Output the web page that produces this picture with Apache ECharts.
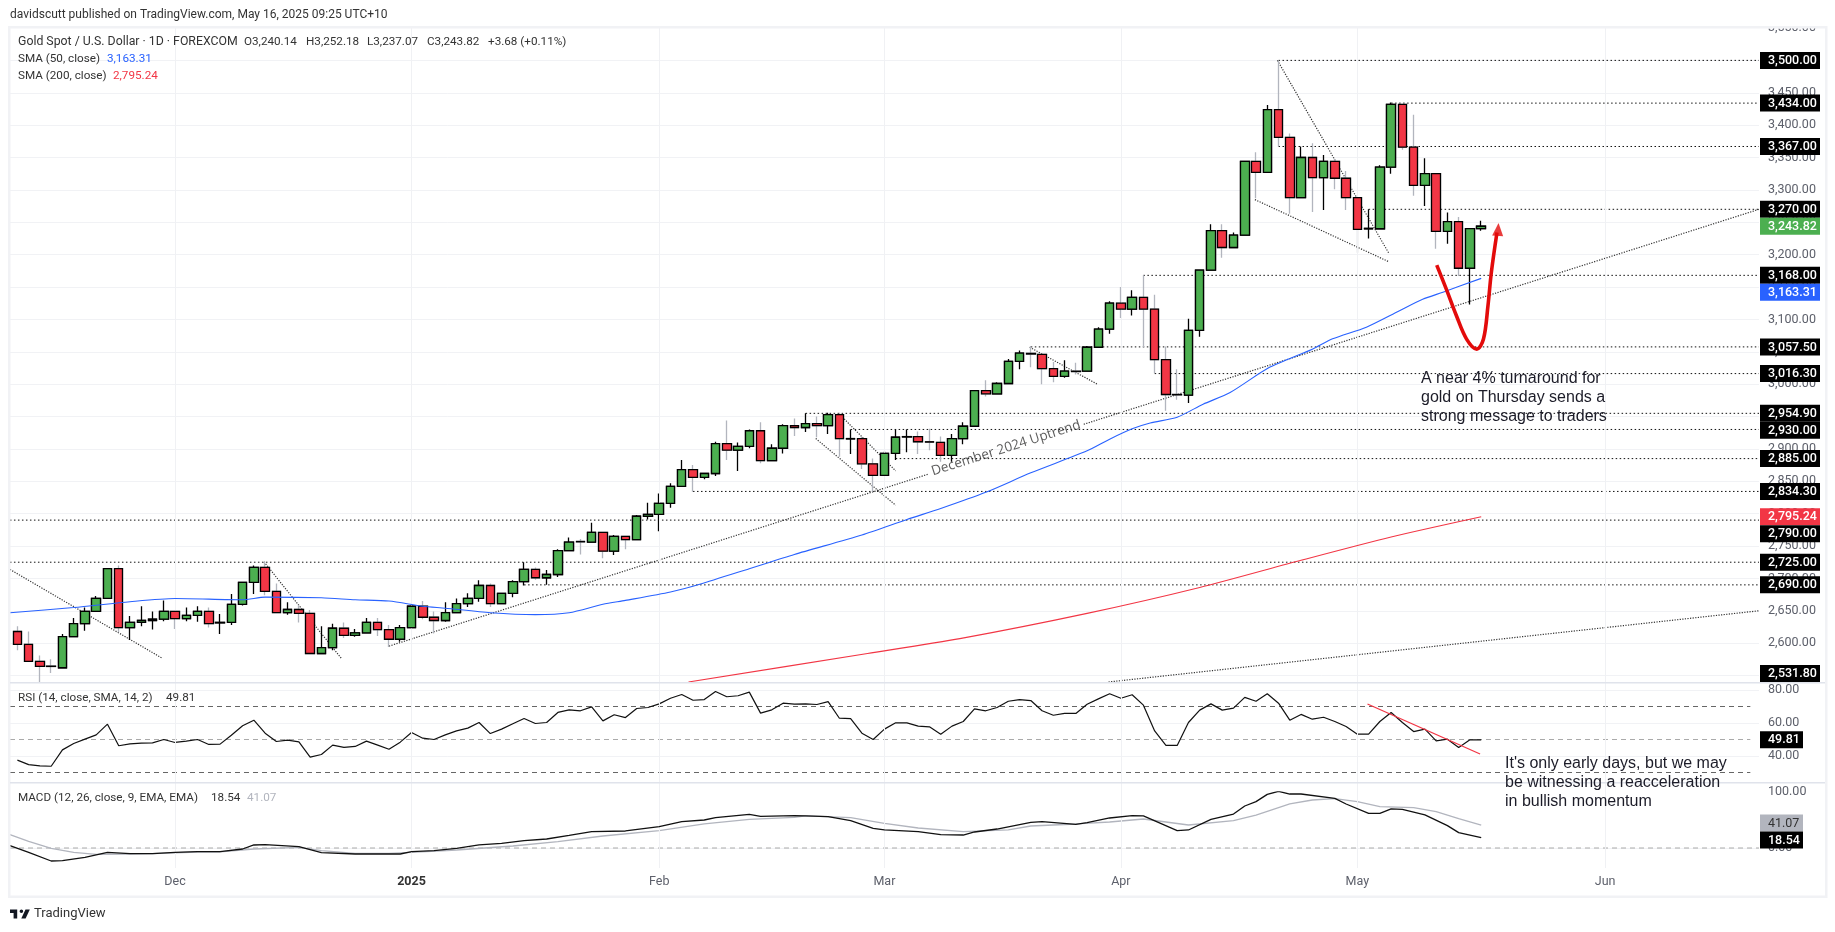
<!DOCTYPE html>
<html>
<head>
<meta charset="utf-8">
<title>Gold Spot / U.S. Dollar</title>
<script src="https://cdn.jsdelivr.net/npm/echarts@6/dist/echarts.min.js"></script>
<style>
  html, body { margin: 0; padding: 0; background: #fff; }
  #chart { width: 1835px; height: 932px; }
</style>
</head>
<body>
<div id="chart"></div>
<script>
// daily bars (bar 0 = 12 Nov 2024)
let barOpen = [2618,2598,2572,2564.5,2562,2610,2630,2649,2669,2715,
  2624,2632,2635,2637,2649,2638,2643,2649,2631.5,2632,
  2660,2694,2717,2680,2647,2652,2646,2584,2593,2623,
  2612,2616,2632,2621,2606,2624,2657,2640,2635,2647,
  2661,2669,2689,2661,2677,2695,2714,2701,2706,2743,
  2757,2756,2771,2742,2765,2760,2796,2799,2816,2842,
  2868,2856,2862,2908,2898,2904,2928,2882,2901,2936,
  2933,2939,2936,2953,2915.5,2916,2877,2859,2893,2918.5,
  2919,2911,2910,2890,2916,2935,2990,2985,3001,3035,
  3047.5,3046,3024,3012,3020,3020,3057,3085,3125,3116,
  3134,3116,3038,2984,2983,3083,3176,3237,3211,3230,
  3344,3327,3424,3381,3288,3350,3319,3344,3318,3288,
  3240,3240,3335,3432,3366,3307,3325,3236,3251,3179,3240.14];
let barClose = [2598,2572,2564,2564,2610,2630,2649,2669,2715,2624,
  2632,2635,2637,2649,2638,2643,2649,2630,2632,2660,
  2694,2717,2680,2647,2652,2646,2584,2593,2623,2612,
  2616,2632,2621,2606,2624,2657,2640,2635,2647,2661,
  2669,2689,2661,2677,2695,2714,2701,2706,2743,2756,
  2756.5,2771,2742,2765,2760,2796,2799,2816,2842,2868,
  2856,2862,2908,2898,2904,2928,2882,2901,2936,2933,
  2939,2936,2953,2916,2916,2877,2859,2893,2918,2919,
  2911,2910.5,2890,2916,2935,2990,2985,3001,3035,3048,
  3046.5,3024,3012,3020,3019.5,3057,3085,3125,3116,3134,
  3116,3038,2984,2983.5,3083,3176,3237,3211,3230,3344,
  3327,3424,3381,3288,3350,3319,3344,3318,3288,3239,
  3240.5,3335,3432,3366,3307,3325,3236,3251,3179,3240.14,3243.82];
let barHigh = [2626,2618,2581,2575,2614,2639,2655,2673,2715,2720,
  2642,2657,2649,2666,2649,2655,2657,2655,2645,2676,
  2695,2720,2726,2692,2663,2659,2651,2626,2630,2632,
  2622,2639,2639,2628,2628,2660,2665,2649,2663,2669,
  2677,2697,2692,2677,2697,2725,2717,2713,2745,2763,
  2761,2786,2772,2767,2765,2798,2817,2831,2847,2883,
  2875,2862,2911,2944,2910,2930,2941,2907,2938,2947,
  2955,2950,2956,2956,2930,2919,2885,2896,2930,2930,
  2927,2931,2919,2923,2941,2990,3006,3003,3039,3052,
  3059,3046,3034,3037,3033,3059,3088,3128,3150,3145,
  3168,3138,3058,3023,3101,3176,3247,3247,3234,3344,
  3358,3431,3500,3387,3367,3372,3354,3348,3329,3288,
  3270,3338,3435,3432,3416,3349,3325,3265,3258,3241,3252.18];
let barLow = [2589,2572,2540,2554,2562,2610,2619,2649,2669,2617,
  2605,2626,2621,2634,2622,2634,2633,2624,2614,2628,
  2658,2676,2674,2647,2644,2632,2584,2584,2589,2608,
  2610,2615,2611,2594,2602,2623,2637,2615,2633,2646,
  2656,2664,2656,2661,2671,2689,2698,2690,2702,2743,
  2737,2755,2731,2736,2745,2760,2791,2773,2809,2842,
  2834,2853,2858,2883,2866,2901,2878,2881,2893,2920,
  2926,2918,2923,2888,2892,2869,2834,2859,2883,2895,
  2892,2898,2880,2880,2907,2935,2981,2984,3001,3023,
  3026,3000,3003,3010,3015,3020,3057,3078,3102,3106,
  3057,3017,2959,2976,2971,3073,3176,3195,3211,3230,
  3287,3327,3367,3263,3288,3266,3269,3301,3269,3203,
  3225,3240,3325,3362,3291,3275,3209,3217,3167,3123,3237.07];

// moving averages, sampled along the drawn curves
let sma50Bars = [-0.66,5,10,14,20,22,27,30,33,36,38,42,46,49,52,54,58,60.6,65,69,75,79,82,86,90,95,97,99,100.6,103,105.3,107.7,111.2,115,116.8,119.8,122.7,124.8,126.6,130];
let sma50Vals = [2647,2655,2664,2669,2667,2671,2670,2667,2665,2657,2654,2647,2644,2647,2660,2666,2679,2691,2715,2737,2767,2791,2808,2833,2863,2897,2915,2931,2940,2949,2969,2987,3026,3054,3070,3088,3113,3131,3142,3163.31];
let sma200Bars = [59.6,75.5,83.7,95,105,114,122,130];
let sma200Vals = [2540,2584,2607,2646,2686,2728,2764,2795.24];

// horizontal levels and where each one starts
let levelVals = [3500,3434,3367,3270,3168,3057.5,3016.3,2954.9,2930,2885,2834.3,2790,2725,2690];
let levelBars = [112,122,112,120,100,90,101,70,74,78,60,-0.66,-0.66,45];

// drawn trend lines: bar, price, bar, price
let trendLines = [
  [33,2595.4,80.9,2861],
  [94.7,2938,154.67,3270],
  [-0.66,2713.8,12.8,2577.3],
  [21.9,2725.6,28.8,2575.8],
  [73.1,2952,78,2866],
  [70.9,2916,78,2813],
  [89.9,3057,95.9,3000],
  [111.9,3500,121.8,3202],
  [109.9,3285,121.8,3189],
  [96.9,2540,154.67,2650]
];

// red hand drawn swoosh
let swooshBars = [126.05,126.9,127.8,128.7,129.6,130.2,130.6,130.9,131.4];
let swooshVals = [3183.9,3146.8,3105.6,3069.6,3054.1,3069.6,3121.1,3172.6,3234.3];

let rsiVals = [37.5,34.8,34,33.8,43.7,47.6,50.2,52.8,59.3,46.2,
  47.4,47.8,48,50,48.2,49,50,47,47.2,52.6,
  58.3,61.7,53.8,48.8,49.6,48.6,39.3,40.9,46.6,45.2,
  45.8,49,46.6,44.1,48.4,54.2,50.8,50,52.8,55.2,
  56.9,60.3,53.6,56.3,59.5,62.7,59.7,60.3,66.4,68,
  67.4,69.8,61.3,65,63.3,68.8,69.4,71.6,75,77.3,
  73.8,74.2,79.1,75.9,76.5,78.7,66,68,72,71.4,
  71.6,71.2,73,62.9,62.7,53.8,50,56.3,60.1,60.1,
  58.1,57.7,53.2,58.1,60.9,68.6,67.4,69.4,73.2,74.2,
  73.6,67.4,64.7,65.8,65.8,71.4,74.6,77.7,75,77.1,
  70.8,55.2,46.4,46.4,60.3,67.8,71.6,67.8,69,75.5,
  73.2,77.7,72,61.7,65.2,62.3,63.5,60.9,57.9,53.2,
  53.2,60.9,66.4,60.3,54.8,56.3,49.2,50.2,45.2,49.8,49.81];
let rsiDownLine = [119.9,71.5,129.9,41.2];

let macdBars = [-0.66,1,3,4,6,8,10,12,14,16,18,20,21,22,25,27,30,34,35,37,39,41,43,45,47,49,51,54,57,59,61,62,65,66,69,70,72,74,76,77,80,82,84,85,87,90,91,94,95,97,99,100,103,104,106,108,109,110,111,112,113,114,117,118,120,121,122,123,125,127,128,130];
let macdVals = [4.2,-7.7,-23.2,-22.6,-16.6,-7.7,-10.1,-10.1,-7.7,-6.5,-6.5,-1.8,5.4,6,2.4,-8.3,-10.7,-10.7,-6.5,-4.7,-0.6,5.4,8.4,13.1,16.1,22.6,29.2,30.4,38.1,47,50,54.2,60.1,56.6,57.8,57.2,56,48.8,35.1,32.2,29.2,23.8,23.2,28.6,33.9,45.8,47,42.3,45.3,53.6,57.8,57.2,31,32.2,51.2,60.7,75,82.8,95.8,101.2,96.4,96.4,88.7,78.6,61.9,61.9,69.7,69.1,59,39.9,27.4,18.54];
let signalBars = [-0.66,1,3,5,7,10,12,16,18,21,25,27,30,33,35,39,44,48,52,57,61,65,69,70,74,77,80,84,88,90,94,97,100,104,108,110,113,115,117,119,121,124,126,128,130];
let signalVals = [23.8,11.9,-0.6,-7.7,-11.3,-10.7,-10.1,-7.1,-7.1,-1.8,1.2,-4.8,-9.5,-9.5,-7.7,-3.6,3.6,11.3,21.4,31,42.9,51.2,54.8,57.2,54.2,44.1,35.7,29.2,32.2,39.3,42.9,46.4,51.8,41.1,48.8,58.9,78.6,85.7,88.1,82.8,73.8,72,64.9,52.4,41.07];

// x axis
let tickBars = [14,35,57,77,98,119,141];
let tickLabels = ['Dec','2025','Feb','Mar','Apr','May','Jun'];

// price tags on the right hand axis
let priceTags = [3500,3434,3367,3270,3243.82,3168,3163.31,3057.5,3016.3,2954.9,2930,2885,2834.3,2795.24,2790,2725,2690,2531.8];
let tagColors = {3243.82:'#4caf50',3163.31:'#2962ff',2795.24:'#f23645'};

let uiFont = 'Roboto, sans-serif';
let noteFont = '"Liberation Sans", Arial, sans-serif';
let xMin = -0.657, xMax = 154.67;

let fmt = function (v) {
  return v.toLocaleString('en-US', {minimumFractionDigits: 2, maximumFractionDigits: 2});
};
let zip = function (a, b) {
  return a.map(function (v, i) { return [v, b[i]]; });
};

let chart = echarts.init(document.getElementById('chart'));

let plainX = function (idx) {
  return {type: 'value', gridIndex: idx, min: xMin, max: xMax, show: false, splitLine: {show: false}};
};
let priceY = function (idx, min, max, interval, showMax) {
  return {
    type: 'value', gridIndex: idx, position: 'right', min: min, max: max, interval: interval,
    axisLine: {show: false}, axisTick: {show: false},
    splitLine: {show: true, showMinLine: false, showMaxLine: false, lineStyle: {color: '#f1f2f5', width: 1}},
    axisLabel: {
      color: '#5d606b', fontFamily: uiFont, fontSize: 12.5, margin: 9,
      showMinLabel: false, showMaxLabel: showMax, formatter: function (v) { return fmt(v); }
    }
  };
};
let simpleLine = function (gridIdx, data, color, width, type, z) {
  return {
    type: 'line', xAxisIndex: gridIdx, yAxisIndex: gridIdx, data: data, showSymbol: false, symbol: 'none',
    silent: true, z: z || 3, lineStyle: {color: color, width: width, type: type}
  };
};

let series = [];

// vertical grid lines
series.push({
  type: 'line', xAxisIndex: 3, yAxisIndex: 3, data: [], silent: true, z: 0,
  markLine: {
    silent: true, symbol: 'none', animation: false, label: {show: false},
    lineStyle: {color: '#f0f1f4', width: 1, type: 'solid'},
    data: tickBars.map(function (b) { return {xAxis: b}; })
  }
});

levelVals.forEach(function (v, i) {
  series.push(simpleLine(0, [[levelBars[i], v], [xMax, v]], '#111', 1, [1.5, 2.5], 2));
});
trendLines.forEach(function (t) {
  series.push(simpleLine(0, [[t[0], t[1]], [t[2], t[3]]], '#333', 1.2, [1.2, 1.4], 2));
});

// wick layer: same bars with black (up) or grey (down) outline, bodies go on top
series.push({
  type: 'candlestick', xAxisIndex: 0, yAxisIndex: 0, silent: true, z: 4, barWidth: 9,
  encode: {x: 0, y: [1, 2, 3, 4]},
  data: barOpen.map(function (o, i) { return [i, o, barClose[i], barLow[i], barHigh[i]]; }),
  itemStyle: {color: '#fff', color0: '#fff', borderColor: '#000', borderColor0: '#b2b5be', borderWidth: 1.3}
});
series.push({
  type: 'candlestick', xAxisIndex: 0, yAxisIndex: 0, silent: true, z: 5, barWidth: 9,
  encode: {x: 0, y: [1, 2, 3, 4]},
  data: barOpen.map(function (o, i) {
    return [i, o, barClose[i], Math.min(o, barClose[i]), Math.max(o, barClose[i])];
  }),
  itemStyle: {color: '#4caf50', color0: '#f23645', borderColor: '#000', borderColor0: '#000', borderWidth: 1.3}
});

let sma50Line = simpleLine(0, zip(sma50Bars, sma50Vals), '#2962ff', 1.1, 'solid', 6);
sma50Line.smooth = 0.25;
series.push(sma50Line);
let sma200Line = simpleLine(0, zip(sma200Bars, sma200Vals), '#f23645', 1.1, 'solid', 6);
sma200Line.smooth = 0.25;
series.push(sma200Line);

let swoosh = simpleLine(0, zip(swooshBars, swooshVals), '#e30b0b', 3.6, 'solid', 7);
swoosh.smooth = 0.35;
series.push(swoosh);
series.push({
  type: 'scatter', xAxisIndex: 0, yAxisIndex: 0, silent: true, z: 7,
  symbol: 'triangle', symbolSize: [11, 13], symbolRotate: -4,
  itemStyle: {color: '#e30b0b'}, data: [[131.5, 3239]]
});

// uptrend caption sits on the gap in the trend line
series.push({
  type: 'scatter', xAxisIndex: 0, yAxisIndex: 0, silent: true, z: 7, symbolSize: 0,
  data: [[87.8, 2901]],
  label: {
    show: true, position: 'inside', rotate: 17.7, formatter: 'December 2024 Uptrend',
    fontFamily: 'Open Sans, sans-serif', fontSize: 13.5, color: '#333'
  }
});

// RSI pane
series.push(simpleLine(1, [[xMin, 70], [153.9, 70]], '#666', 1, [5, 4], 2));
series.push(simpleLine(1, [[xMin, 50], [153.9, 50]], '#aaa', 1, [5, 4], 2));
series.push(simpleLine(1, [[xMin, 30], [153.9, 30]], '#666', 1, [5, 4], 2));
series.push(simpleLine(1, rsiVals.map(function (v, i) { return [i, v]; }), '#111', 1.2, 'solid', 4));
series.push(simpleLine(1, [[rsiDownLine[0], rsiDownLine[1]], [rsiDownLine[2], rsiDownLine[3]]], '#f23645', 1.3, 'solid', 5));

// MACD pane
series.push(simpleLine(2, [[xMin, 0], [xMax, 0]], '#aaa', 1, [5, 4], 2));
series.push(simpleLine(2, zip(signalBars, signalVals), '#b2b5be', 1.3, 'solid', 4));
series.push(simpleLine(2, zip(macdBars, macdVals), '#111', 1.3, 'solid', 5));

chart.setOption({
  animation: false,
  backgroundColor: '#fff',
  grid: [
    {left: 10, width: 1749, top: 28, height: 679.9},
    {left: 10, width: 1749, top: 657, height: 132},
    {left: 10, width: 1749, top: 792, height: 112},
    {left: 10, width: 1749, top: 28, height: 840}
  ],
  xAxis: [plainX(0), plainX(1), plainX(2), {
    type: 'value', gridIndex: 3, min: xMin, max: xMax,
    splitLine: {show: false}, axisLine: {show: false}, axisTick: {show: false},
    axisLabel: {
      customValues: tickBars, color: '#5d606b', fontFamily: uiFont, fontSize: 12.5, margin: 7,
      formatter: function (v) {
        let name = tickLabels[tickBars.indexOf(v)] || '';
        return name === '2025' ? '{b|2025}' : name;
      },
      rich: {b: {fontWeight: 'bold', color: '#333', fontFamily: uiFont, fontSize: 12.5}}
    }
  }],
  yAxis: [
    priceY(0, 2500, 3550, 50, true),
    priceY(1, 20, 100, 20, false),
    priceY(2, -100, 100, 100, true),
    {type: 'value', gridIndex: 3, min: 0, max: 1, show: false}
  ],
  series: series
});

// overlay: frame, tags, captions
let texts = [];
let addText = function (text, x, y, fill, font) {
  texts.push({
    type: 'text', z: 120, silent: true,
    style: {text: text, x: x, y: y, fill: fill, font: font, verticalAlign: 'middle'}
  });
};
let addRect = function (x, y, w, h, fill, z) {
  texts.push({type: 'rect', z: z || 100, silent: true, shape: {x: x, y: y, width: w, height: h}, style: {fill: fill}});
};

addRect(1759, 0, 76, 27, '#fff', 50);
addRect(8, 26, 1819, 2.5, '#f1f2f5', 60);
addRect(8, 26, 2.5, 872, '#f1f2f5', 60);
addRect(1825, 26, 2.5, 872, '#f1f2f5', 60);
addRect(8, 895.5, 1819, 2.5, '#f1f2f5', 60);
addRect(10, 682, 1815, 1.4, '#e0e3eb', 60);
addRect(10, 782, 1815, 1.4, '#e0e3eb', 60);

// tags stack downwards when they would overlap, like the platform does
let tagY = -100;
priceTags.forEach(function (v) {
  let y = chart.convertToPixel({yAxisIndex: 0}, v);
  y = Math.max(y, tagY + 17);
  y = Math.min(y, 673.5);
  tagY = y;
  let bg = tagColors[v] || '#000';
  addRect(1760, y - 8.5, 60, 17, bg, 100);
  addText(fmt(v), 1768, y + 0.5, '#fff', '500 12.5px ' + uiFont);
});
let rsiTagY = chart.convertToPixel({yAxisIndex: 1}, 49.81);
addRect(1760, rsiTagY - 8.5, 43, 17, '#000', 100);
addText('49.81', 1768, rsiTagY + 0.5, '#fff', '500 12.5px ' + uiFont);
let sigTagY = chart.convertToPixel({yAxisIndex: 2}, 41.07) - 2;
addRect(1760, sigTagY - 8.5, 43, 17, '#b2b5be', 100);
addText('41.07', 1768, sigTagY + 0.5, '#333', '12.5px ' + uiFont);
addRect(1760, sigTagY + 8.5, 43, 17, '#000', 100);
addText('18.54', 1768, sigTagY + 17.5, '#fff', '500 12.5px ' + uiFont);

addText('davidscutt published on TradingView.com, May 16, 2025 09:25 UTC+10', 10, 15, '#333', '12px ' + uiFont);

let legendFont = '11.7px ' + uiFont;
addText('Gold Spot / U.S. Dollar · 1D · FOREXCOM', 18, 42, '#333', '12.3px ' + uiFont);
addText('O3,240.14', 244, 42, '#333', legendFont);
addText('H3,252.18', 306, 42, '#333', legendFont);
addText('L3,237.07', 367, 42, '#333', legendFont);
addText('C3,243.82', 427, 42, '#333', legendFont);
addText('+3.68 (+0.11%)', 488, 42, '#333', legendFont);
addText('SMA (50, close)', 18, 59, '#333', legendFont);
addText('3,163.31', 107, 59, '#2962ff', legendFont);
addText('SMA (200, close)', 18, 76, '#333', legendFont);
addText('2,795.24', 113, 76, '#f23645', legendFont);
addText('RSI (14, close, SMA, 14, 2)', 18, 698, '#333', legendFont);
addText('49.81', 166, 698, '#333', legendFont);
addText('MACD (12, 26, close, 9, EMA, EMA)', 18, 798, '#333', legendFont);
addText('18.54', 211, 798, '#333', legendFont);
addText('41.07', 247, 798, '#b2b5be', legendFont);

let noteStyle = '16px ' + noteFont;
addText('A near 4% turnaround for', 1421, 379, '#1c1c28', noteStyle);
addText('gold on Thursday sends a', 1421, 398, '#1c1c28', noteStyle);
addText('strong message to traders', 1421, 417, '#1c1c28', noteStyle);
addText("It's only early days, but we may", 1505, 764, '#1c1c28', noteStyle);
addText('be witnessing a reacceleration', 1505, 783, '#1c1c28', noteStyle);
addText('in bullish momentum', 1505, 802, '#1c1c28', noteStyle);

// TradingView mark
texts.push({type: 'polygon', z: 120, silent: true, shape: {points: [[10,909.5],[17.2,909.5],[17.2,918.5],[13.6,918.5],[13.6,913],[10,913]]}, style: {fill: '#131722'}});
texts.push({type: 'polygon', z: 120, silent: true, shape: {points: [[21.3,918.5],[25.5,909.5],[29.8,909.5],[25.6,918.5]]}, style: {fill: '#131722'}});
texts.push({type: 'circle', z: 120, silent: true, shape: {cx: 21.4, cy: 911.3, r: 1.8}, style: {fill: '#131722'}});
addText('TradingView', 34, 914, '#333', '13px ' + uiFont);

chart.setOption({graphic: {elements: texts}});
</script>
</body>
</html>
